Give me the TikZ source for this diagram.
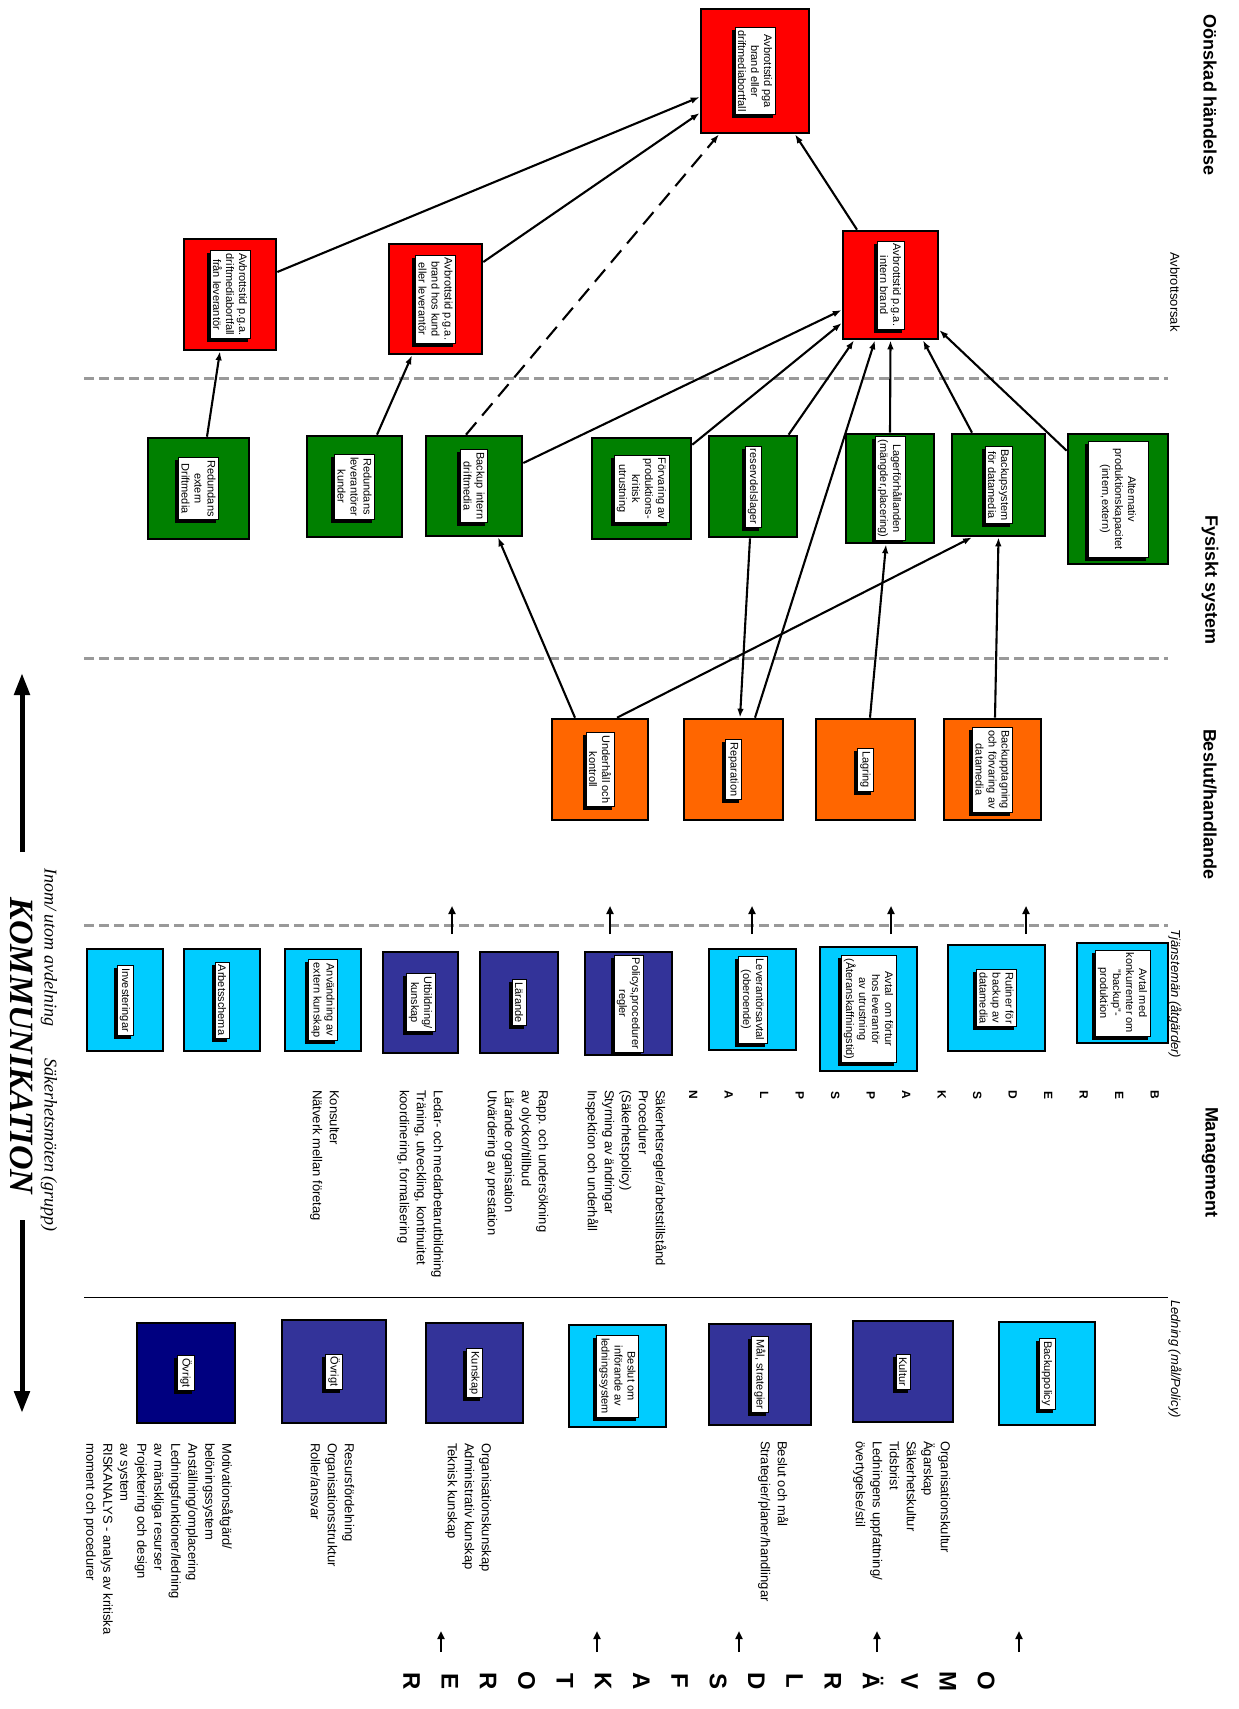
\documentclass[tikz,border=0pt]{standalone}
\usepackage{fontspec}
\setmainfont{Liberation Sans}
\newfontfamily\tmsfont{Liberation Serif}
\usetikzlibrary{arrows.meta,fit,calc}

\definecolor{cred}{RGB}{255,0,0}
\definecolor{cgreen}{RGB}{0,128,0}
\definecolor{corange}{RGB}{255,102,0}
\definecolor{clight}{RGB}{0,204,255}
\definecolor{cdark}{RGB}{51,51,153}
\definecolor{cnavy}{RGB}{0,0,128}
\definecolor{cgrid}{RGB}{153,153,153}

\tikzset{
  ubx/.style={draw=black, line width=2.6pt, inner sep=0pt, rectangle},
  lbl/.style={rotate=-90, fill=white, draw=black, line width=0.6pt, inner sep=3pt,
    align=center, font=\fontsize{11}{13}\selectfont},
  lblsh/.style={lbl, fill=black, text=black},
  con/.style={line width=2.1pt, -{Latex[length=9pt,width=6.5pt]}},
  dcon/.style={con, dash pattern=on 16pt off 9pt},
  sep/.style={draw=cgrid, line width=3pt, dash pattern=on 10pt off 5pt},
  hd/.style={rotate=-90, font=\fontsize{18}{22}\selectfont\bfseries},
  sb/.style={rotate=-90, font=\fontsize{13}{16}\selectfont},
  sbi/.style={rotate=-90, font=\fontsize{13}{16}\selectfont\itshape},
  col/.style={rotate=-90, anchor=north west, inner sep=0pt, align=left,
    font=\fontsize{13}{17}\selectfont},
  upar/.style={line width=2pt, -{Triangle[length=8pt,width=7pt]}},
  bigar/.style={line width=5pt, -{Triangle[length=22pt,width=15pt]}}
}

% coloured box between two corners
\newcommand\ubox[6]{\node[ubx, fill=#6, fit={(#2,#3) (#4,#5)}] (#1) {};}
% white text label with a drop shadow, centred on a box
\newcommand\lab[3][]{%
  \node[lblsh,#1] at ($(#2)+(-3pt,-3pt)$) {#3};
  \node[lbl,#1] (#2-l) at (#2) {#3};}

\begin{document}
\begin{tikzpicture}[x=1pt,y=-1pt]
\useasboundingbox (0,0) rectangle (1239,1709);
\fill[white] (0,0) rectangle (1239,1709);

% separators
\coordinate (s1a) at (84,378);  \coordinate (s1b) at (1168,378);
\coordinate (s2a) at (84,658);  \coordinate (s2b) at (1168,658);
\coordinate (s3a) at (84,925);  \coordinate (s3b) at (1168,925);
\coordinate (s4a) at (84,1297); \coordinate (s4b) at (1168,1297);
\draw[sep] (s1a) -- (s1b);
\draw[sep] (s2a) -- (s2b);
\draw[sep] (s3a) -- (s3b);
\draw[line width=1pt] (s4a) -- (s4b);

% headings
\node[hd] (hOns) at (1210,95) {Oönskad händelse};
\node[sb] (hAvb) at (1175,292) {Avbrottsorsak};
\node[hd] (hFys) at (1210,580) {Fysiskt system};
\node[hd] (hBes) at (1210,804) {Beslut/handlande};
\node[sbi] (hTja) at (1175,994) {Tjänstemän (åtgärder)};
\node[hd] (hMan) at (1210,1162) {Management};
\node[sbi] (hLed) at (1175,1359) {Ledning (mål/Policy)};

% unwanted events
\ubox{top}{701}{9}{809}{133}{cred}
\ubox{intern}{843}{231}{938}{339}{cred}
\ubox{redA}{184}{239}{276}{350}{cred}
\ubox{redB}{389}{244}{482}{354}{cred}
\lab{top}{Avbrottstid pga\\brand eller\\driftmediabortfall}
\lab{intern}{Avbrottstid p.g.a.\\intern brand}
\lab{redA}{Avbrottstid p.g.a.\\driftmediabortfall\\från leverantör}
\lab{redB}{Avbrottstid p.g.a.\\brand hos kund\\eller leverantör}

% physical system
\ubox{gExt}{148}{438}{249}{539}{cgreen}
\ubox{gLev}{307}{436}{402}{537}{cgreen}
\ubox{gBint}{426}{436}{522}{536}{cgreen}
\ubox{gForv}{592}{438}{691}{539}{cgreen}
\ubox{gRes}{709}{436}{797}{537}{cgreen}
\ubox{gLag}{846}{434}{934}{543}{cgreen}
\ubox{gBsys}{952}{434}{1045}{536}{cgreen}
\ubox{gAlt}{1068}{434}{1168}{564}{cgreen}
\lab{gExt}{Redundans\\extern\\Driftmedia}
\lab{gLev}{Redundans\\leverantörer\\kunder}
\lab{gBint}{Backup intern\\driftmedia}
\lab{gForv}{Förvaring av\\produktions-\\kritisk\\utrustning}
\lab{gRes}{reservdelslager}
\lab{gLag}{Lagerförhållanden\\(mängder,placering)}
\lab{gBsys}{Backupsystem\\för datamedia}
\lab[minimum width=116pt, minimum height=60pt]{gAlt}{Alternativ\\produktionskapacitet\\(intern,extern)}

% decisions
\ubox{oUnd}{552}{719}{648}{820}{corange}
\ubox{oRep}{684}{719}{783}{820}{corange}
\ubox{oLag}{816}{719}{915}{820}{corange}
\ubox{oBup}{944}{719}{1041}{820}{corange}
\lab{oUnd}{Underhåll och\\kontroll}
\lab{oRep}{Reparation}
\lab{oLag}{Lagring}
\lab{oBup}{Backupptagning\\och förvaring av\\datamedia}

% management measures
\ubox{mInv}{87}{949}{163}{1051}{clight}
\ubox{mArb}{184}{949}{260}{1051}{clight}
\ubox{mAnv}{285}{949}{361}{1051}{clight}
\ubox{mUtb}{383}{952}{458}{1053}{cdark}
\ubox{mLar}{480}{952}{558}{1053}{cdark}
\ubox{mPol}{585}{952}{672}{1055}{cdark}
\ubox{mLev}{709}{949}{796}{1050}{clight}
\ubox{mAvt}{820}{947}{917}{1071}{clight}
\ubox{mRut}{948}{945}{1045}{1051}{clight}
\ubox{mKonk}{1077}{943}{1168}{1043}{clight}
\lab{mInv}{Investeringar}
\lab{mArb}{Arbetsschema}
\lab{mAnv}{Användning av\\extern kunskap}
\lab{mUtb}{Utbildning/\\kunskap}
\lab{mLar}{Lärande}
\lab{mPol}{Policys,procedurer\\regler}
\lab{mLev}{Leverantörsavtal\\(oberoende)}
\lab{mAvt}{Avtal\ \ om förtur\\hos leverantör\\av utrustning\\(Återanskaffningstid)}
\lab{mRut}{Rutiner för\\backup av\\datamedia}
\lab{mKonk}{Avtal med\\konkurrenter om\\"backup"-\\produktion}

% leadership boxes
\ubox{bBpol}{999}{1322}{1095}{1425}{clight}
\ubox{bKul}{853}{1321}{953}{1422}{cdark}
\ubox{bMal}{709}{1324}{811}{1425}{cdark}
\ubox{bBes}{569}{1325}{666}{1427}{clight}
\ubox{bKun}{426}{1323}{523}{1423}{cdark}
\ubox{bOv1}{282}{1320}{386}{1423}{cdark}
\ubox{bOv2}{137}{1323}{235}{1423}{cnavy}
\lab{bBpol}{Backuppolicy}
\lab{bKul}{Kultur}
\lab{bMal}{Mål, strategier}
\lab{bBes}{Beslut om\\införande av\\ledningssystem}
\lab{bKun}{Kunskap}
\lab{bOv1}{Övrigt}
\lab{bOv2}{Övrigt}

% connectors
\draw[con] ([yshift=22.5pt]redA.east) -- ([yshift=-26pt]top.west);
\draw[con] ([yshift=37pt]redB.east) -- ([yshift=-42pt]top.west);
\draw[dcon] ([xshift=-8pt]gBint.north) -- ([xshift=-36pt]top.south);
\draw[con] ([xshift=-33.5pt]intern.north) -- ([xshift=40pt]top.south);
\draw[con] ([xshift=8.5pt]gExt.north) -- ([xshift=-10pt]redA.south);
\draw[con] ([xshift=22.5pt]gLev.north) -- ([xshift=-23.5pt]redB.south);
\draw[con] ([yshift=23pt]gBint.east) -- ([yshift=-25pt]intern.west);
\draw[con] ([yshift=-8pt]gForv.north east) -- ([yshift=-38pt]intern.west);
\draw[con] ([xshift=35.6pt]gRes.north) -- ([xshift=-36.5pt]intern.south);
\draw[con] ([xshift=21.5pt]oRep.north) -- ([xshift=-15.5pt]intern.south);
\draw[con] (gLag.north) -- (intern.south);
\draw[con] ([xshift=-26.5pt]gBsys.north) -- ([xshift=32.5pt]intern.south);
\draw[con] ([yshift=-18pt]gAlt.north west) -- ([yshift=-45pt]intern.east);
\draw[con] ([xshift=-3pt]gRes.south) -- ([xshift=6.5pt]oRep.north);
\draw[con] ([xshift=-25pt]oUnd.north) -- ([xshift=24pt]gBint.south);
\draw[con] ([xshift=17pt]oUnd.north) -- ([xshift=-26.5pt]gBsys.south);
\draw[con] ([xshift=4.5pt]oLag.north) -- ([xshift=-4pt]gLag.south);
\draw[con] ([xshift=2.5pt]oBup.north) -- (gBsys.south);

% short upward arrows
\foreach \i/\x in {1/452,2/610,3/752,4/891,5/1026}{
  \coordinate (ua\i) at (\x,934); \coordinate (ub\i) at (\x,906);
  \draw[upar] (ua\i) -- (ub\i);}
\foreach \i/\x in {1/441,2/597,3/739,4/877,5/1019}{
  \coordinate (la\i) at (\x,1652); \coordinate (lb\i) at (\x,1631);
  \draw[upar] (la\i) -- (lb\i);}

% vertical words
\node[rotate=-90, align=center, inner sep=0pt, font=\fontsize{12}{35.5}\selectfont\bfseries] (wBer) at (924,1095)
  {B\\E\\R\\E\\D\\S\\K\\A\\P\\S\\P\\L\\A\\N};
\node[rotate=-90, align=center, inner sep=0pt, font=\fontsize{24}{38.3}\selectfont\bfseries] (wOmv) at (699,1681)
  {O\\M\\V\\Ä\\R\\L\\D\\S\\F\\A\\K\\T\\O\\R\\E\\R};

% management text columns
\node[col] (t1) at (666.5,1090) {Säkerhetsregler/arbetstillstånd\\Procedurer\\(Säkerhetspolicy)\\Styrning av ändringar\\Inspektion och underhåll};
\node[col] (t2) at (548.5,1090) {Rapp. och undersökning\\av olyckor/tillbud\\Lärande organisation\\Utvärdering av prestation};
\node[col] (t3) at (443.5,1090) {Ledar- och medarbetarutbildning\\Träning, utveckling, kontinuitet\\koordinering, formalisering};
\node[col] (t4) at (339.5,1090) {Konsulter\\Nätverk mellan företag};

% leadership text columns
\node[col] (u1) at (950.5,1441) {Organisationskultur\\Ägarskap\\Säkerhetskultur\\Tidsbrist\\Ledningens uppfattning/\\övertygelse/stil};
\node[col] (u2) at (788.5,1441) {Beslut och mål\\Strategier/planer/handlingar};
\node[col] (u3) at (491.5,1443) {Organisationskunskap\\Administrativ kunskap\\Teknisk kunskap};
\node[col] (u4) at (354.5,1443) {Resursfördelning\\Organisationsstruktur\\Roller/ansvar};
\node[col] (u5) at (233,1443) {Motivationsåtgärd/\\belöningssystem\\Anställning/omplacering\\Ledningsfunktioner/ledning\\av mänskliga resurser\\Projektering och design\\av system\\RISKANALYS - analys av kritiska\\moment och procedurer};

% communication
\coordinate (kA1) at (22,852); \coordinate (kA2) at (22,673);
\coordinate (kB1) at (22,1220); \coordinate (kB2) at (22,1413);
\draw[bigar] (kA1) -- (kA2);
\draw[bigar] (kB1) -- (kB2);
\node[rotate=-90, font=\tmsfont\fontsize{34}{38}\selectfont\bfseries\itshape] (kom) at (22,1046) {KOMMUNIKATION};
\node[rotate=-90, font=\tmsfont\fontsize{18}{22}\selectfont\itshape] (inom) at (49,947) {Inom/ utom avdelning};
\node[rotate=-90, font=\tmsfont\fontsize{18}{22}\selectfont\itshape] (sakm) at (49,1145) {Säkerhetsmöten (grupp)};
\end{tikzpicture}
\end{document}
